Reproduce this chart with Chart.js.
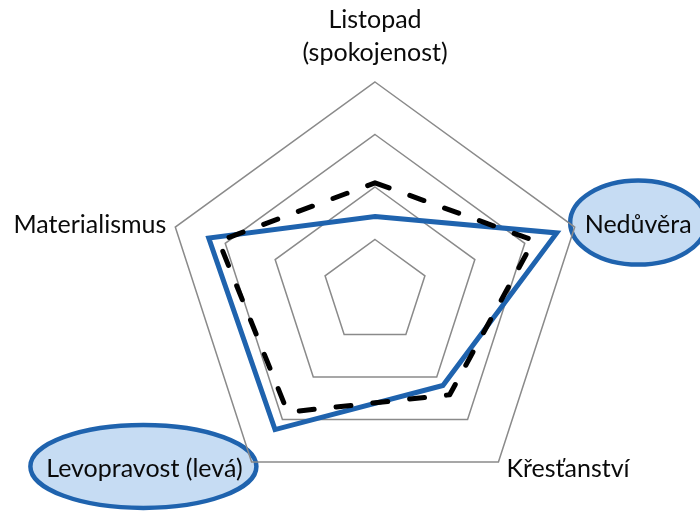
<!DOCTYPE html>
<html><head><meta charset="utf-8">
<script src="https://cdn.jsdelivr.net/npm/chart.js@4/dist/chart.umd.min.js"></script>
<style>html,body{margin:0;padding:0;background:#fff}</style>
</head><body>
<canvas id="c" width="700" height="511"></canvas>
<script>
// ---- data ----
const categories = [['Listopad', '(spokojenost)'], 'Nedůvěra', 'Křesťanství', 'Levopravost (levá)', 'Materialismus'];
const seriesBlue = [1.44, 3.64, 2.20, 3.24, 3.33];
const seriesBlack = [2.08, 3.18, 2.42, 2.83, 3.13];
const highlightedCategories = [1, 3];
const scaleMin = 0;
const scaleMax = 4;
const scaleStep = 1;

// ---- styles ----
const labelStyle = {
  font: '25px Lato',
  color: '#0a0a0a',
  align: ['center', 'left', 'left', 'right', 'right'],
  dx: [0, 10, 8, -9, -9],
  dy: [-21, 6, 15, 15, 6],
  lineHeight: 33
};
const ellipseStyle = {
  rx: {1: 68, 3: 113},
  ry: {1: 42, 3: 41.5},
  dx: {1: 0, 3: -1},
  dy: -10.5,
  fill: '#c6dcf3',
  stroke: '#1f63ae',
  width: 4.5
};

function labelGeometry(chart, i) {
  const scale = chart.scales.r;
  const p = scale.getPointPosition(i, scale.drawingArea);
  const ctx = chart.ctx;
  ctx.save();
  ctx.font = labelStyle.font;
  const lines = Array.isArray(categories[i]) ? categories[i] : [categories[i]];
  const widths = lines.map(t => ctx.measureText(t).width);
  ctx.restore();
  const x = p.x + labelStyle.dx[i];
  const baseY = p.y + labelStyle.dy[i];
  const align = labelStyle.align[i];
  const w = Math.max(...widths);
  const cx = align === 'center' ? x : (align === 'left' ? x + w / 2 : x - w / 2);
  return {lines, x, baseY, align, cx};
}

const annotPlugin = {
  id: 'annot',
  beforeDraw(chart) {
    const ctx = chart.ctx;
    highlightedCategories.forEach(i => {
      const g = labelGeometry(chart, i);
      ctx.save();
      ctx.beginPath();
      ctx.ellipse(g.cx + ellipseStyle.dx[i], g.baseY + ellipseStyle.dy, ellipseStyle.rx[i], ellipseStyle.ry[i], 0, 0, Math.PI * 2);
      ctx.fillStyle = ellipseStyle.fill;
      ctx.fill();
      ctx.lineWidth = ellipseStyle.width;
      ctx.strokeStyle = ellipseStyle.stroke;
      ctx.stroke();
      ctx.restore();
    });
  },
  afterDraw(chart) {
    const ctx = chart.ctx;
    ctx.save();
    ctx.font = labelStyle.font;
    ctx.fillStyle = labelStyle.color;
    ctx.textBaseline = 'alphabetic';
    categories.forEach((c, i) => {
      const g = labelGeometry(chart, i);
      ctx.textAlign = g.align;
      const n = g.lines.length;
      g.lines.forEach((t, k) => {
        ctx.fillText(t, g.x, g.baseY - (n - 1 - k) * labelStyle.lineHeight);
      });
    });
    ctx.restore();
  }
};

new Chart(document.getElementById('c'), {
  type: 'radar',
  data: {
    labels: categories,
    datasets: [
      {
        label: 'Black',
        data: seriesBlack,
        borderColor: '#000000',
        borderWidth: 5,
        borderDash: [15, 22],
        borderCapStyle: 'round',
        borderJoinStyle: 'round',
        fill: false,
        pointRadius: 0,
        pointHoverRadius: 0
      },
      {
        label: 'Blue',
        data: seriesBlue,
        borderColor: '#1f63ae',
        borderWidth: 5,
        borderJoinStyle: 'miter',
        fill: false,
        pointRadius: 0,
        pointHoverRadius: 0
      }
    ]
  },
  options: {
    responsive: false,
    animation: false,
    devicePixelRatio: 1,
    layout: {padding: {left: 165, right: 115, top: 82, bottom: 9}},
    plugins: {legend: {display: false}, tooltip: {enabled: false}, title: {display: false}},
    scales: {
      r: {
        min: scaleMin,
        max: scaleMax,
        ticks: {display: false, stepSize: scaleStep},
        grid: {color: '#8a8a8a', lineWidth: 1.5, circular: false},
        angleLines: {display: false},
        pointLabels: {display: false}
      }
    }
  },
  plugins: [annotPlugin]
});
</script>
</body></html>
